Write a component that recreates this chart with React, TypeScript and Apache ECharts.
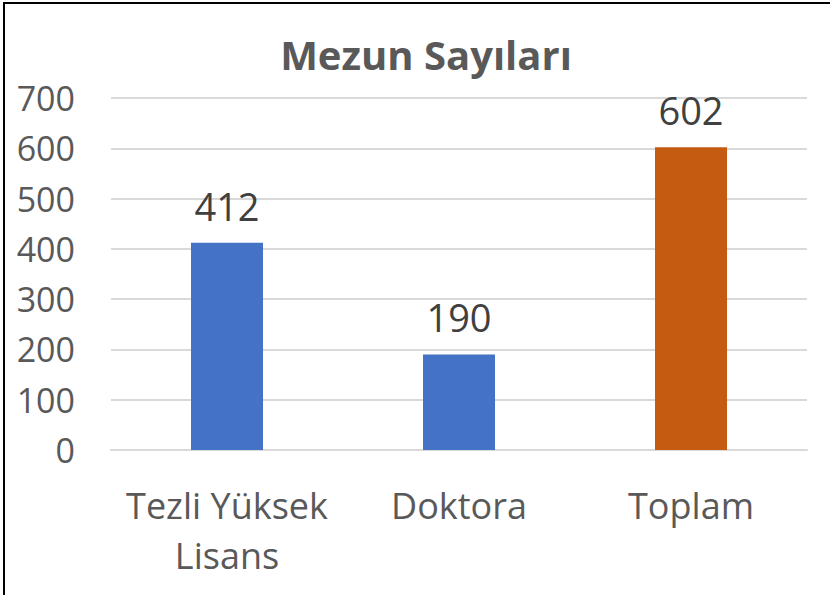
import React, { useEffect, useRef } from "react";
import * as echarts from "echarts";

const categories = ["Tezli Yüksek\nLisans", "Doktora", "Toplam"];
const values = [412, 190, 602];
const barColors = ["#4472C4", "#4472C4", "#C55A11"];
const yTicks = [0, 100, 200, 300, 400, 500, 600, 700];
const titleText = "Mezun Sayıları";

export default function App() {
  const ref = useRef<HTMLDivElement>(null);
  useEffect(() => {
    if (!ref.current) return;
    const chart = echarts.init(ref.current, null, { renderer: "svg" });
    const font = "'Open Sans', 'Noto Sans', sans-serif";
    chart.setOption({
      animation: false,
      backgroundColor: "#ffffff",
      title: {
        text: titleText,
        left: 421,
        textAlign: "center",
        top: 29,
        textStyle: { fontFamily: font, fontWeight: "bold", fontSize: 40, color: "#595959" },
      },
      graphic: [
        {
          type: "rect",
          shape: { x: 4, y: 3, width: 900, height: 700 },
          style: { fill: "none", stroke: "#000000", lineWidth: 2 },
          silent: true,
        },
      ],
      grid: { left: 111, right: 23, top: 98, bottom: 145, containLabel: false },
      xAxis: {
        type: "category",
        data: categories,
        axisLine: { show: true, lineStyle: { color: "#D9D9D9", width: 2 } },
        axisTick: { show: false },
        axisLabel: {
          fontFamily: font,
          fontSize: 36,
          color: "#595959",
          lineHeight: 50,
          margin: 30,
          interval: 0,
        },
      },
      yAxis: {
        type: "value",
        min: yTicks[0],
        max: yTicks[yTicks.length - 1],
        interval: 100,
        axisLine: { show: false },
        axisTick: { show: false },
        splitLine: { lineStyle: { color: "#D9D9D9", width: 2 } },
        axisLabel: { fontFamily: font, fontSize: 34, color: "#595959", margin: 36 },
      },
      series: [
        {
          type: "bar",
          data: values.map((v, i) => ({ value: v, itemStyle: { color: barColors[i] } })),
          barWidth: 72,
          label: {
            show: true,
            position: "top",
            distance: 18,
            fontFamily: font,
            fontSize: 38,
            color: "#404040",
          },
        },
      ],
    });
    return () => chart.dispose();
  }, []);
  return (
    <div
      ref={ref}
      style={{ position: "fixed", left: 0, top: 0, width: 830, height: 595 }}
    />
  );
}
